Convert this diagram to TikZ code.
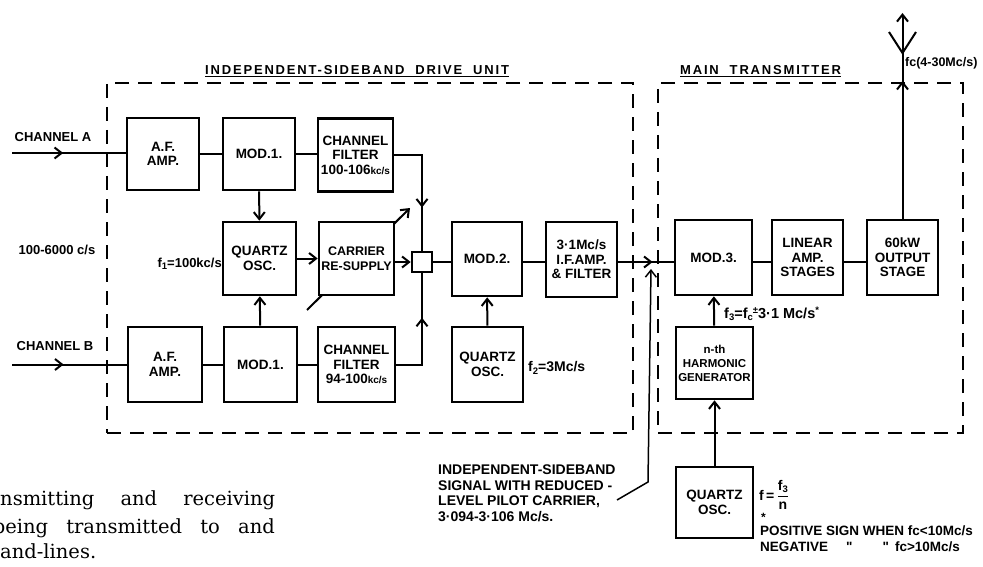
\documentclass[tikz,border=0pt]{standalone}
\usepackage{fontspec}
\newfontfamily\lab{Liberation Sans}
\newfontfamily\capfont{DejaVu Serif}
\usetikzlibrary{arrows.meta,decorations.markings}
\newcommand\bxfont{\lab\bfseries\fontsize{13.5}{14.5}\selectfont}
\newcommand\lbfont{\lab\bfseries\fontsize{13}{14}\selectfont}
\newcommand\lsub[1]{\raisebox{-0.35ex}{\fontsize{9.5}{9.5}\selectfont #1}}
\newcommand\lsup[1]{\raisebox{0.6ex}{\fontsize{9.5}{9.5}\selectfont #1}}
\tikzset{
  blk/.style={draw, line width=2.6pt, fill=white, align=center, inner sep=0pt, font=\bxfont},
  conn/.style={line width=2pt},
  tip/.style={-{Straight Barb[length=7pt,width=11pt]}},
  midarrow/.style={postaction={decorate}, decoration={markings, mark=at position #1 with {\arrow{Straight Barb[length=7pt,width=11pt]}}}},
  dashbox/.style={draw, line width=2pt, dash pattern=on 14pt off 9pt, inner sep=0pt},
  lbl/.style={font=\lbfont, inner sep=0pt},
  note/.style={lbl, anchor=west, font=\lab\bfseries\fontsize{13.5}{14}\selectfont},
  captxt/.style={inner sep=0pt, font=\capfont\fontsize{19.5}{26}\selectfont},
}
\begin{document}
\begin{tikzpicture}[x=1pt,y=-1pt]
\useasboundingbox (0,0) rectangle (983,567);
\clip (0,0) rectangle (983,567);
% frames
\node[dashbox, minimum width=526pt, minimum height=350pt] (isb) at (370,258) {};
\node[dashbox, minimum width=305pt, minimum height=350pt] (mtx) at (810.5,258) {};
\node[lbl, anchor=west, font=\lab\bfseries\fontsize{13}{14}\selectfont\addfontfeature{LetterSpace=14}] (tisb) at (205,71) {\underline{INDEPENDENT-SIDEBAND\ \ DRIVE\ \ UNIT}};
\node[lbl, anchor=west, font=\lab\bfseries\fontsize{13}{14}\selectfont\addfontfeature{LetterSpace=14}] (tmtx) at (680,71) {\underline{MAIN\ \ TRANSMITTER}};
% variable arrow (behind carrier re-supply)
\coordinate (va1) at (307,310);
\coordinate (va2) at (410,208);
\draw[conn,tip] (va1) -- (va2);
% blocks
\node[blk, minimum width=72pt, minimum height=72pt] (afA) at (163,154) {A.F.\\AMP.};
\node[blk, minimum width=72pt, minimum height=72pt] (modA) at (259,154) {MOD.1.};
\node[blk, minimum width=75pt, minimum height=73pt] (cfA) at (355.5,155) {CHANNEL\\FILTER\\100-106{\fontsize{10}{10}\selectfont kc/s}};
\node[blk, minimum width=73pt, minimum height=73pt] (qo1) at (259.5,258.5) {QUARTZ\\OSC.};
\node[blk, minimum width=75pt, minimum height=73pt, font=\lab\bfseries\fontsize{12.5}{14.5}\selectfont] (crs) at (356.5,258.5) {CARRIER\\RE-SUPPLY};
\node[blk, minimum width=20pt, minimum height=20pt] (jn) at (422,262) {};
\node[blk, minimum width=70pt, minimum height=74pt] (mod2) at (487,259) {MOD.2.};
\node[blk, minimum width=71pt, minimum height=75pt] (ifa) at (581.5,259.5) {3·1Mc/s\\I.F.AMP.\\\& FILTER};
\node[blk, minimum width=74pt, minimum height=75pt] (afB) at (165,364.5) {A.F.\\AMP.};
\node[blk, minimum width=73pt, minimum height=75pt] (modB) at (260.5,364.5) {MOD.1.};
\node[blk, minimum width=77pt, minimum height=75pt] (cfB) at (356.5,364.5) {CHANNEL\\FILTER\\94-100{\fontsize{10}{10}\selectfont kc/s}};
\node[blk, minimum width=71pt, minimum height=75pt] (qo2) at (487.5,364.5) {QUARTZ\\OSC.};
\node[blk, minimum width=77pt, minimum height=75pt] (mod3) at (713.5,257.5) {MOD.3.};
\node[blk, minimum width=71pt, minimum height=75pt] (lin) at (807.5,257.5) {LINEAR\\AMP.\\STAGES};
\node[blk, minimum width=71pt, minimum height=75pt] (out) at (902.5,257.5) {60kW\\OUTPUT\\STAGE};
\node[blk, minimum width=77pt, minimum height=72pt, font=\lab\bfseries\fontsize{11.5}{14}\selectfont] (hg) at (714.5,363) {n-th\\HARMONIC\\GENERATOR};
\node[blk, minimum width=77pt, minimum height=71pt] (qo3) at (714.5,502.5) {QUARTZ\\OSC.};
% inputs
\coordinate (chA) at (12,153);
\coordinate (chB) at (12,364.5);
\draw[conn, midarrow=0.45] (chA) -- (afA.west |- chA);
\draw[conn, midarrow=0.45] (chB) -- (afB);
% connectors
\draw[conn] (afA) -- (modA);
\draw[conn] (modA) -- (cfA.west |- modA);
\draw[conn, tip] (modA) -- (qo1);
\draw[conn, tip] (modB) -- (qo1);
\draw[conn] (afB) -- (modB);
\draw[conn] (modB) -- (cfB);
\draw[conn, tip] (qo1) -- (crs.west |- qo1);
\draw[conn, tip] (crs.east |- jn) -- (jn);
\draw[conn, midarrow=0.65] (cfA.east) -| (jn.north);
\draw[conn, midarrow=0.62] (cfB.east) -| (jn.south);
\draw[conn] (jn) -- (mod2.west |- jn);
\draw[conn, tip] (qo2) -- (mod2);
\draw[conn] (mod2.east |- jn) -- (ifa.west |- jn);
\draw[conn, midarrow=0.62] (ifa.east |- jn) -- (mod3.west |- jn);
\draw[conn] (mod3.east |- jn) -- (lin.west |- jn);
\draw[conn] (lin.east |- jn) -- (out.west |- jn);
\draw[conn, tip] (hg) -- (mod3);
\draw[conn, tip] (qo3) -- (hg);
% antenna
\coordinate (ant) at (902.5,13);
\draw[conn, tip, midarrow=0.67] (out) -- (ant);
\draw[conn] ([shift={(-13.5,19)}]ant) -- ([shift={(0,40)}]ant) -- ([shift={(13.5,19)}]ant);
% leader
\coordinate (ld1) at (617,500);
\coordinate (ld2) at (648,482);
\coordinate (ld3) at (651,269);
\draw[line width=1.5pt, tip] (ld1) -- (ld2) -- (ld3);
% labels
\node[lbl] (lchA) at (53,137) {CHANNEL A};
\node[lbl] (lchB) at (55,346) {CHANNEL B};
\node[lbl] (lbw) at (57,250) {100-6000 c/s};
\node[lbl, anchor=east] (lf1) at (222,264) {f\lsub{1}=100kc/s};
\node[lbl, anchor=west, font=\lab\bfseries\fontsize{14}{15}\selectfont] (lf2) at (528,368) {f\lsub{2}=3Mc/s};
\node[lbl, anchor=west, font=\lab\bfseries\fontsize{14.5}{15}\selectfont] (lf3) at (724,314) {f\lsub{3}=f\lsub{c}\lsup{±}3·1 Mc/s\lsup{*}};
\node[lbl, anchor=west, font=\lab\bfseries\fontsize{12.5}{13}\selectfont] (lfc) at (905,63) {fc(4-30Mc/s)};
\node[lbl, anchor=west, font=\lab\bfseries\fontsize{14}{14}\selectfont] (lfn) at (759,495) {f\,=\,$\displaystyle\frac{\hbox{f\lsub{3}}}{\hbox{n}}$};
\node[note, font=\lab\bfseries\fontsize{12}{12}\selectfont] (lst) at (761,517) {*};
\node[note] (lpos) at (760,531) {POSITIVE SIGN WHEN fc<10Mc/s};
\node[note] (lneg) at (760,547) {NEGATIVE\hspace{18pt}"\hspace{30pt}"\hspace{6pt}fc>10Mc/s};
\node[lbl, anchor=north west, align=left, font=\lab\bfseries\fontsize{14}{15.5}\selectfont] (lsig) at (438,465) {INDEPENDENT-SIDEBAND\\SIGNAL WITH REDUCED -\\LEVEL PILOT CARRIER,\\3·094-3·106 Mc/s.};
% caption fragment
\node[captxt, anchor=base west] (cap1) at (0,505) {\hbox to 275pt{nsmitting\hfill and\hfill receiving}};
\node[captxt, anchor=base east] (cap2) at (275,533) {\hbox to 282pt{being\hfill transmitted\hfill to\hfill and}};
\node[captxt, anchor=base west] (cap3) at (0,558) {and-lines.};
\end{tikzpicture}
\end{document}
